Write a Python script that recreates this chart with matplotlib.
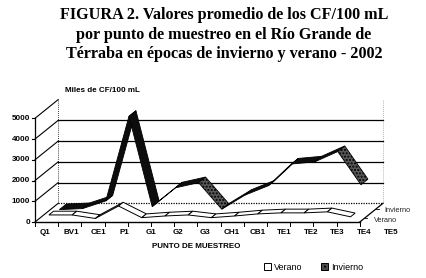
import numpy as np
import matplotlib.pyplot as plt
from matplotlib.patches import Polygon, Rectangle

puntos = ["Q1", "BV1", "CE1", "P1", "G1", "G2", "G3", "CH1", "CB1",
          "TE1", "TE2", "TE3", "TE4", "TE5"]
invierno = [100, 150, 520, 4600, 250, 1150, 1400, 120, 800, 1250, 2300, 2400, 2900, 1300]
verano = [250, 250, 80, 680, 120, 200, 250, 120, 200, 300, 350, 350, 400, 160]
yticks = [0, 1000, 2000, 3000, 4000, 5000]

# fake 3d: depth vector (fraction 1 = back wall) in data units
DX, DY = 1.0, 902.0

fig = plt.figure(figsize=(4.26, 2.78), dpi=100)
ax = fig.add_axes([0, 0, 1, 1])
ax.set_xlim(-2.009, 16.353)
ax.set_ylim(-2700, 10704)
ax.axis("off")

n = len(puntos)
x0, x1 = -0.5, n - 0.5

# back wall
for v in yticks[1:-1]:
    ax.plot([x0 + DX, x1 + DX], [v + DY, v + DY], color="k", lw=0.9)
ax.plot([x0 + DX, x1 + DX], [DY, DY], color="k", lw=0.9, ls=(0, (1, 1)))
ax.plot([x0 + DX, x0 + DX], [DY, 5000 + DY], color="k", lw=0.6, ls=(0, (1, 1.5)))
ax.plot([x1 + DX, x1 + DX], [DY, 5000 + DY], color="0.6", lw=0.6, ls=(0, (1, 1.5)))

# left wall diagonals + front value axis
for v in yticks:
    ax.plot([x0, x0 + DX], [v, v + DY], color="k", lw=0.8)
    ax.plot([x0 - 0.15, x0], [v, v], color="k", lw=0.8)
    ax.text(x0 - 0.22, v, str(v), ha="right", va="center", fontsize=5.8,
            fontweight="bold", family="Liberation Sans")
ax.plot([x0, x0], [0, 5000], color="k", lw=0.9)


def ribbon(vals, f1, f2, face, desc_face=None, hatch=None, lw=0.6, z=3):
    for i in range(len(vals) - 1):
        a, b = vals[i], vals[i + 1]
        pts = [(i + f1 * DX, a + f1 * DY), (i + 1 + f1 * DX, b + f1 * DY),
               (i + 1 + f2 * DX, b + f2 * DY), (i + f2 * DX, a + f2 * DY)]
        fc = face
        h = None
        if desc_face is not None and b < a and (a - b) < 2000:
            fc, h = desc_face, hatch
        ax.add_patch(Polygon(pts, closed=True, facecolor=fc, edgecolor="k",
                             lw=lw, hatch=h, zorder=z))


ribbon(invierno, 0.55, 0.85, "0.05", desc_face="0.35", hatch=".....", z=3)
ribbon(verano, 0.1, 0.3, "white", lw=0.7, z=4)

# floor
ax.plot([x0, x1], [0, 0], color="k", lw=1.0, zorder=5)
ax.plot([x1, x1 + DX], [0, DY], color="k", lw=0.9, zorder=5)
for i in range(n + 1):
    ax.plot([x0 + i, x0 + i], [0, -180], color="k", lw=0.7)
for f in (0.2, 0.7):
    ax.plot([x1 + f * DX, x1 + f * DX + 0.12], [f * DY, f * DY], color="k", lw=0.6)
ax.text(x1 + 0.7 * DX + 0.35, 0.7 * DY - 60, "Invierno", fontsize=5.3,
        va="center", ha="left", family="Liberation Sans", color="0.15")
ax.text(x1 + 0.2 * DX + 0.4, 0.2 * DY - 100, "Verano", fontsize=5.3,
        va="center", ha="left", family="Liberation Sans", color="0.15")

# category labels (spread wider than the floor, as in the original)
for i, p in enumerate(puntos):
    ax.text(-0.07 + 1.147 * i, -530, p, ha="center", va="center", fontsize=5.8,
            fontweight="bold", family="Liberation Sans")

fig.text(196 / 426, 1 - 247 / 278, "PUNTO DE MUESTREO", ha="center", va="center",
         fontsize=5.8, fontweight="bold", family="Liberation Sans")
fig.text(102 / 426, 1 - 91 / 278, "Miles de CF/100 mL", ha="center", va="center",
         fontsize=5.8, fontweight="bold", family="Liberation Sans")

fig.text(224 / 426, 1 - 7 / 278,
         "FIGURA 2. Valores promedio de los CF/100 mL\n"
         "por punto de muestreo en el Río Grande de\n"
         "Térraba en épocas de invierno y verano - 2002",
         ha="center", va="top", fontsize=11.6, fontweight="bold",
         family="Liberation Serif", linespacing=1.3)

# legend
fig.add_artist(Rectangle((264 / 426, 1 - 270 / 278), 7 / 426, 7 / 278,
                         transform=fig.transFigure, facecolor="white",
                         edgecolor="k", lw=0.7))
fig.add_artist(Rectangle((321 / 426, 1 - 270 / 278), 7 / 426, 7 / 278,
                         transform=fig.transFigure, facecolor="0.3",
                         edgecolor="k", lw=0.7, hatch="...."))
fig.text(274 / 426, 1 - 267 / 278, "Verano", va="center", ha="left",
         fontsize=6.5, family="Liberation Sans")
fig.text(331 / 426, 1 - 267 / 278, "Invierno", va="center", ha="left",
         fontsize=6.5, family="Liberation Sans")

fig.savefig("out.png", dpi=100)
